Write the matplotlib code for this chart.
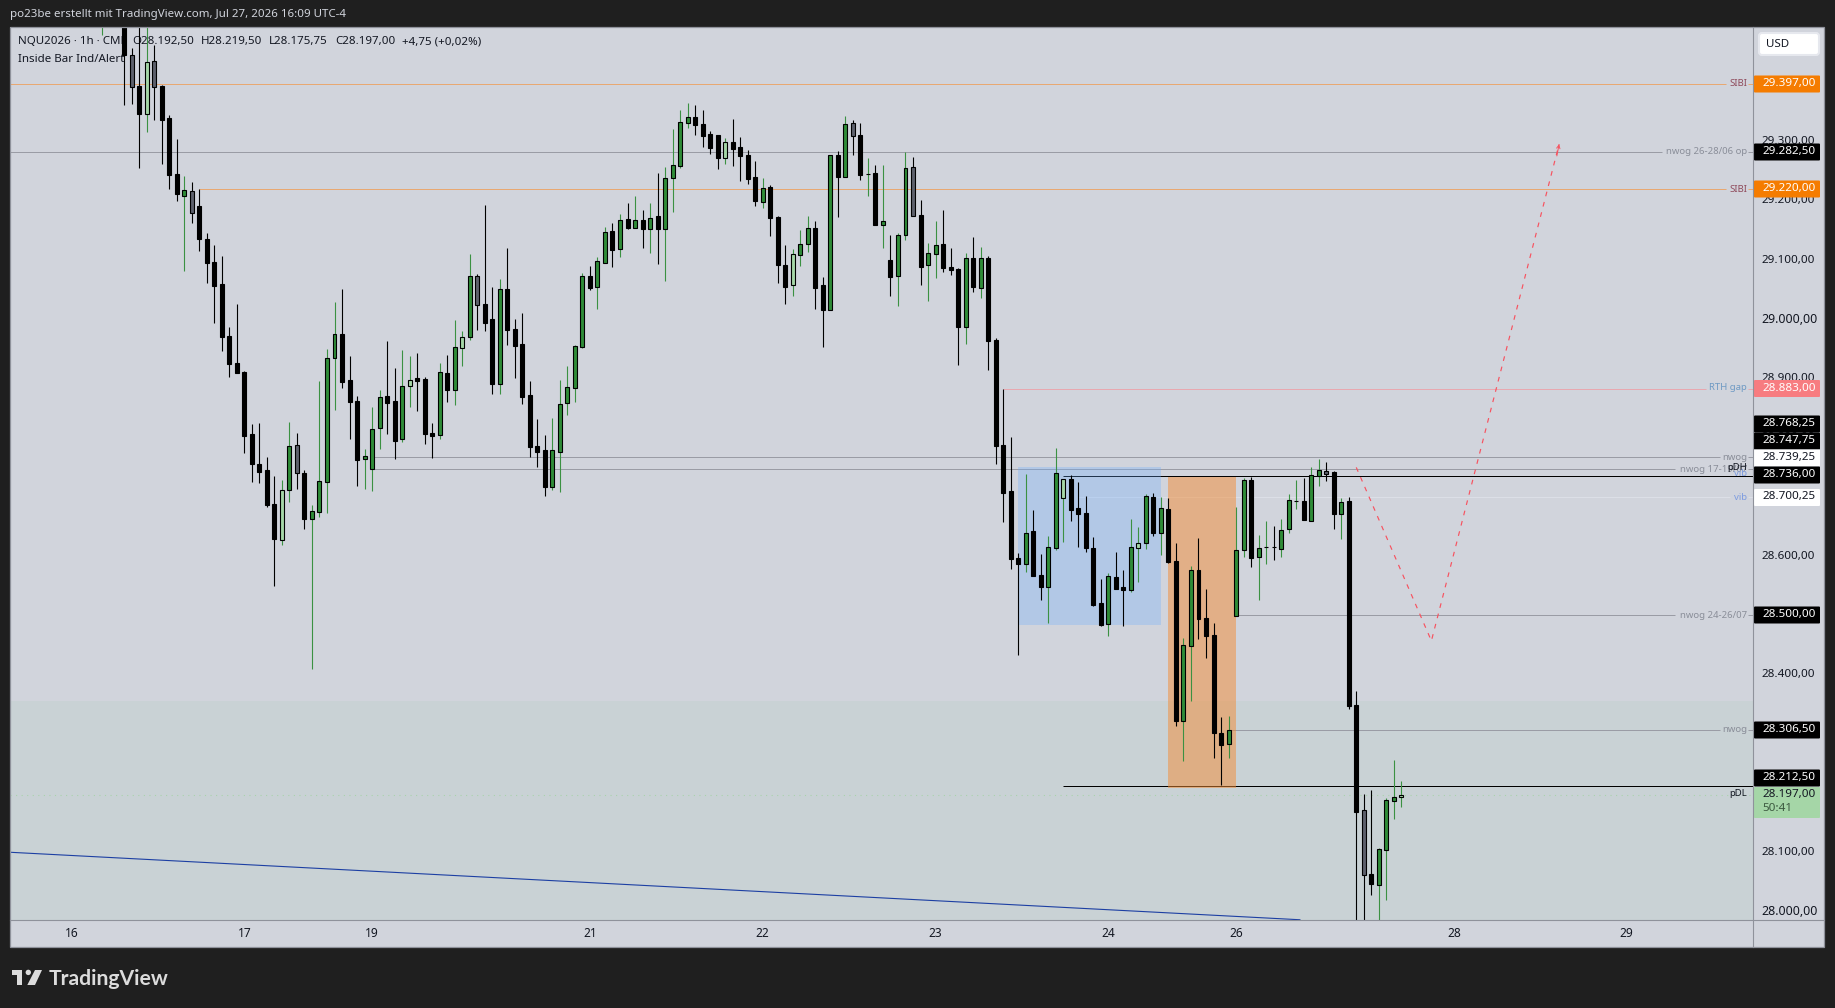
import matplotlib
matplotlib.use('Agg')
import matplotlib.pyplot as plt
from matplotlib.patches import Rectangle, FancyBboxPatch, Polygon, Circle
from matplotlib.transforms import Affine2D

plt.rcParams['font.family'] = ['Noto Sans', 'DejaVu Sans']

# Candles, one entry per hour bar
opens = [29510,29560,29560,29530,29446,29394,29346,29436,29394,29340,
         29246,29209,29216,29191,29136,29097,29059,28972,28926,28911,
         28806,28756,28746,28688,28628,28711,28788,28740,28663,28675,
         28726,28934,28975,28898,28862,28765,28747,28816,28870,28862,
         28798,28887,28901,28899,28808,28805,28909,28880,28952,28971,
         29073,29026,29000,28891,29051,28984,28958,28872,28786,28779,
         28717,28776,28859,28884,28953,29073,29055,29096,29149,29118,
         29169,29155,29167,29153,29174,29153,29238,29259,29331,29341,
         29330,29313,29311,29273,29300,29291,29278,29240,29198,29224,
         29173,29092,29058,29109,29127,29154,29058,29016,29278,29240,
         29332,29311,29245,29247,29159,29100,29073,29142,29257,29176,
         29092,29110,29127,29088,29085,28987,29104,29053,29104,28965,
         28788,28710,28597,28587,28642,28568,28548,28614,28698,28730,
         28681,28673,28614,28521,28485,28565,28548,28543,28614,28622,
         28700,28639,28680,28592,28322,28448,28577,28496,28467,28301,
         28283,28499,28610,28729,28599,28615,28615,28612,28646,28694,
         28693,28659,28735,28744,28742,28671,28693,28349,28171,28063,
         28045,28104,28186,28192.5]
highs = [29580,29580,29590,29560,29458,29510,29510,29463,29396,29345,
         29305,29242,29232,29220,29146,29125,29107,28987,29026,28913,
         28823,28825,28768,28735,28729,28827,28808,28746,28686,28896,
         28950,29029,29051,28938,28870,28781,28852,28881,28963,28918,
         28948,28938,28943,28903,28825,28926,28940,28999,28980,29110,
         29077,29193,29055,29068,29121,29001,29011,28896,28832,28805,
         28833,28898,28921,28957,29078,29090,29105,29156,29163,29178,
         29196,29208,29185,29197,29247,29257,29322,29354,29365,29362,
         29354,29318,29311,29306,29338,29308,29286,29267,29239,29227,
         29175,29126,29119,29151,29175,29166,29072,29278,29284,29344,
         29337,29332,29272,29261,29261,29142,29146,29283,29274,29202,
         29129,29166,29185,29121,29087,29112,29139,29122,29107,28968,
         28883,28801,28605,28739,28678,28604,28634,28783,28731,28737,
         28725,28702,28632,28561,28572,28607,28577,28663,28649,28705,
         28707,28700,28698,28622,28462,28583,28631,28545,28487,28328,
         28330,28683,28732,28734,28636,28659,28651,28663,28705,28729,
         28732,28751,28764,28759,28744,28698,28700,28372,28198,28205,
         28107,28192,28256,28219.5]
lows = [29481,29510,29505,29362,29364,29256,29317,29337,29263,29220,
        29200,29081,29163,29115,29061,28994,28947,28903,28909,28774,
        28725,28724,28683,28550,28619,28691,28713,28646,28410,28666,
        28673,28847,28884,28798,28719,28713,28710,28781,28806,28764,
        28793,28852,28845,28789,28766,28798,28860,28855,28921,28965,
        28982,28980,28874,28874,28957,28901,28857,28767,28751,28702,
        28712,28708,28838,28860,28952,29050,29018,29096,29088,29105,
        29153,29155,29121,29112,29094,29065,29181,29256,29323,29311,
        29291,29279,29254,29262,29259,29234,29229,29191,29188,29141,
        29061,29026,29039,29090,29114,29018,28953,29016,29173,29240,
        29278,29235,29208,29159,29120,29039,29023,29134,29175,29058,
        29031,29070,29080,29075,28923,28958,29046,29036,28914,28756,
        28658,28578,28433,28573,28566,28526,28487,28610,28624,28659,
        28615,28607,28516,28482,28465,28545,28482,28539,28556,28612,
        28634,28602,28588,28313,28254,28355,28460,28428,28259,28213,
        28259,28499,28599,28582,28526,28587,28594,28599,28639,28680,
        28661,28659,28719,28727,28646,28629,28342,27980,27980,28028,
        27980,28019,28156,28175.75]
closes = [29560,29530,29520,29447,29392,29347,29434,29393,29337,29244,
          29211,29218,29179,29136,29095,29057,28970,28925,28909,28803,
          28756,28742,28686,28629,28711,28786,28741,28663,28676,28727,
          28935,28975,28894,28860,28762,28769,28815,28869,28859,28795,
          28887,28898,28896,28806,28803,28911,28881,28953,28970,29073,
          29024,28994,28891,29051,28982,28955,28869,28784,28776,28717,
          28779,28857,28886,28955,29073,29053,29099,29147,29117,29167,
          29154,29167,29153,29172,29153,29238,29260,29333,29341,29328,
          29310,29289,29273,29299,29288,29276,29237,29200,29222,29171,
          29092,29055,29110,29127,29154,29053,29016,29278,29240,29330,
          29310,29244,29245,29159,29166,29072,29142,29256,29175,29088,
          29112,29126,29087,29083,28987,29104,29055,29104,28963,28786,
          28707,28595,28587,28640,28566,28548,28615,28740,28731,28678,
          28671,28614,28518,28484,28566,28545,28543,28615,28622,28702,
          28639,28681,28590,28322,28450,28577,28494,28465,28301,28281,
          28306,28610,28729,28597,28614,28615,28615,28644,28695,28694,
          28661,28737,28746,28739,28671,28692,28347,28168,28061,28046,
          28105,28188,28193,28197]
# u up, d down, g inside bar down, l inside bar up
kinds = list("udddgdlgdd" "dugddddddd" "ddddlugduu" "uuddduuudd" "uldddudulu"
             "gddudddddd" "uuuuuduudu" "dududuuuud" "dddlddddud" "ddluuddudu"
             "gdududuugd" "uudddududd" "dddudduuld" "ddddudd" "ulu" "duddu" "udddd"
             "uuuduuduuu" "duugduddgd" "uuul")

price_ticks = [28000, 28100, 28200, 28300, 28400, 28500, 28600, 28700,
               28800, 28900, 29000, 29100, 29200, 29300, 29400]
date_ticks = ['16', '17', '19', '21', '22', '23', '24', '26', '28', '29']
date_tick_bars = [-4, 19, 36, 65, 88, 111, 134, 151, 180, 203]

# Drawn levels: price, first bar, last bar
sibi_high = [29397, -13, 216.2]
sibi_low = [29220, 13, 216.2]
nwog_june = [29282.5, -13, 207.7]
rth_gap = [28883, 120, 213.5]
nwog_a = [28768.25, 36, 215.4]
nwog_b = [28747.75, 36, 209.4]
vib = [28700.25, 130, 216.8]
nwog_jul = [28500, 151, 209.4]
nwog_c = [28306.5, 150, 215.4]
pdh = [28736, 128, 220]
pdl = [28212.5, 128, 220]

# Trend line and the projected path
trend_bars = [-12.2, 159.5]
trend_prices = [28100, 27986]
path_bars = [167, 177, 194]
path_prices = [28750, 28457, 29296]
blue_box = [122, 141, 28484, 28751]
orange_box = [142, 151, 28208, 28734]
discount_zone = [27900, 28356]

# Pixel layout of the screenshot
W, H = 1835, 1008
LEFT, RIGHT, TOP, BOTTOM = 10, 1753, 27.5, 920
PER_BAR = 7.513
FIRST_X = 101.6


def px_to_bar(x):
    return (x - FIRST_X) / PER_BAR


def px_to_price(y):
    return 29397 - (y - 84.3) * 1.6889


BG = '#1f1f1f'
PANE = '#d1d4dc'
GREEN = '#2f8c38'
WICK_GREEN = '#3b9142'
GREY_LINE = '#9a9ca5'
ORANGE_LINE = '#e8a872'

fig = plt.figure(figsize=(W / 100, H / 100), dpi=100, facecolor=BG)

# Light panel behind the price and time scales
back = fig.add_axes([0, 0, 1, 1], facecolor='none')
back.set_xlim(0, W)
back.set_ylim(H, 0)
back.axis('off')
back.add_patch(Rectangle((9.5, 27), 1814.5, 920, fc=PANE, ec='none'))

ax = fig.add_axes([LEFT / W, 1 - BOTTOM / H, (RIGHT - LEFT) / W, (BOTTOM - TOP) / H])
ax.set_facecolor(PANE)
ax.set_xlim(px_to_bar(LEFT), px_to_bar(RIGHT))
ax.set_ylim(px_to_price(BOTTOM), px_to_price(TOP))
for s in ax.spines.values():
    s.set_visible(False)

ax.axhspan(discount_zone[0], discount_zone[1], color='#c9d2d5', lw=0, zorder=0.5)

# Horizontal levels
for level, col in [(sibi_high, ORANGE_LINE), (sibi_low, ORANGE_LINE),
                   (nwog_june, GREY_LINE), (rth_gap, '#e8a8b0'),
                   (nwog_a, GREY_LINE), (nwog_b, GREY_LINE), (vib, '#dcdfe7'),
                   (nwog_jul, GREY_LINE), (nwog_c, GREY_LINE),
                   (pdh, 'black'), (pdl, 'black')]:
    ax.hlines(level[0], level[1], level[2], color=col, lw=0.72, zorder=1)
    # little stub between the label and the price scale
    if col != 'black':
        ax.hlines(level[0], px_to_bar(1748), px_to_bar(RIGHT), color=col, lw=0.72, zorder=1)
ax.axhline(closes[-1], color='#a9d3ac', lw=0.8, ls=(0, (1, 4)), zorder=1)
ax.plot(trend_bars, trend_prices, color='#1c3fa3', lw=0.8, zorder=1)

# Zones, they sit over the levels and under the candles
ax.add_patch(Rectangle((blue_box[0], blue_box[2]), blue_box[1] - blue_box[0],
                       blue_box[3] - blue_box[2], color='#6dafff', alpha=0.3, lw=0, zorder=1.5))
ax.add_patch(Rectangle((orange_box[0], orange_box[2]), orange_box[1] - orange_box[0],
                       orange_box[3] - orange_box[2], color='#f38c34', alpha=0.5, lw=0, zorder=1.5))

# Legend in the top left corner, under the candles
legend_y = px_to_price(41.5)
legend_parts = [(18, 'NQU2026 · 1h · CME'), (132.5, 'O28.192,50'), (200.5, 'H28.219,50'),
                (269, 'L28.175,75'), (335, 'C28.197,00'), (402, '+4,75 (+0,02%)')]
for x, txt in legend_parts:
    ax.text(px_to_bar(x), legend_y, txt, fontsize=8.3, color='#131722', va='center', zorder=1.7)
ax.text(px_to_bar(18), px_to_price(59), 'Inside Bar Ind/Alert', fontsize=8.3,
        color='#131722', va='center', zorder=1.7)

# Candles
bars = list(range(len(opens)))
fills = {'u': GREEN, 'd': 'black', 'g': '#5d606b', 'l': '#a5d6a7'}
wicks = {'u': WICK_GREEN, 'd': 'black', 'g': 'black', 'l': WICK_GREEN}
ax.vlines(bars, lows, highs, colors=[wicks[k] for k in kinds], lw=0.8, zorder=2)
body_low = [min(o, c) for o, c in zip(opens, closes)]
body_h = [abs(o - c) for o, c in zip(opens, closes)]
ax.bar(bars, body_h, bottom=body_low, width=0.53, color=[fills[k] for k in kinds],
       edgecolor='black', linewidth=0.8, zorder=3)

# Projected path with its small arrow head
ax.plot(path_bars, path_prices, color='#f7525f', lw=0.85, ls=(0, (4, 5)), zorder=4)
ax.annotate('', xy=(path_bars[-1], path_prices[-1]),
            xytext=(path_bars[-1] - 0.3, path_prices[-1] - 20),
            arrowprops=dict(arrowstyle='->', color='#f7525f', lw=0.7, mutation_scale=6,
                            shrinkA=0, shrinkB=0), zorder=4)

# Axes ticks
ax.set_xticks(date_tick_bars, date_ticks)
ax.set_yticks(price_ticks, [f'{p:,.2f}'.replace(',', ' ').replace('.', ',').replace(' ', '.')
                            for p in price_ticks])
ax.yaxis.tick_right()
ax.tick_params(axis='x', length=0, pad=5, labelsize=8.6, labelcolor='#131722')
ax.tick_params(axis='y', length=0, pad=6.3, labelsize=8.4, labelcolor='#131722')
for lab in ax.get_yticklabels():
    lab.set_transform(lab.get_transform() + Affine2D().translate(0, 1.5))
    if lab.get_text() in ('29.000,00', '28.000,00'):
        lab.set_fontsize(8.9)
        lab.set_fontweight('medium')

# Overlay in screen pixels for frame, price labels and footer
ov = fig.add_axes([0, 0, 1, 1], facecolor='none')
ov.set_xlim(0, W)
ov.set_ylim(H, 0)
ov.axis('off')

FRAME = '#8f929b'
ov.add_patch(Rectangle((9.5, 27), 1814.5, 920, fc='none', ec=FRAME, lw=0.9))
ov.plot([RIGHT, RIGHT], [27, 947], color=FRAME, lw=0.8)
ov.plot([9.5, 1824], [BOTTOM, BOTTOM], color=FRAME, lw=0.8)
ov.text(10, 15, 'po23be erstellt mit TradingView.com, Jul 27, 2026 16:09 UTC-4',
        color='#d1d4dc', fontsize=8.3, va='center')

# USD button
ov.add_patch(FancyBboxPatch((1759, 33), 60, 22, boxstyle='round,pad=0,rounding_size=3',
                            fc='white', ec='#e6e8ee', lw=1.5))
ov.text(1766, 44.5, 'USD', color='#131722', fontsize=8.3, va='center')

# Text next to the levels: label, colour, y position
level_texts = [('SIBI', '#8f4a5c', 84), ('nwog 26-28/06 op', '#8a8e99', 152),
               ('SIBI', '#8f4a5c', 189), ('RTH gap', '#6f9ac4', 388),
               ('nwog', '#8a8e99', 457), ('nwog 17-19/07', '#8a8e99', 469),
               ('vib', '#7d9be0', 473), ('pDH', '#131722', 467), ('vib', '#7d9be0', 497),
               ('nwog 24-26/07', '#8a8e99', 615.5), ('nwog', '#8a8e99', 730),
               ('pDL', '#131722', 794)]
for txt, col, y in level_texts:
    ov.text(1747, y, txt, color=col, fontsize=6.9, ha='right', va='center')

# Boxes on the price scale: label, fill, text colour, y position
price_boxes = [('29.397,00', '#f57c00', 'white', 84), ('29.282,50', 'black', 'white', 152),
               ('29.220,00', '#f57c00', 'white', 189), ('28.883,00', '#f77c80', 'white', 388.5),
               ('28.768,25', 'black', 'white', 424), ('28.747,75', 'black', 'white', 441),
               ('28.739,25', 'white', '#131722', 458), ('28.736,00', 'black', 'white', 475),
               ('28.700,25', 'white', '#131722', 497.5), ('28.500,00', 'black', 'white', 615),
               ('28.306,50', 'black', 'white', 730), ('28.212,50', 'black', 'white', 778)]
for txt, fc, tc, y in price_boxes:
    ov.add_patch(FancyBboxPatch((1754, y - 8.5), 66, 17, boxstyle='round,pad=0,rounding_size=1',
                                fc=fc, ec='none'))
    ov.text(1762, y - 0.5, txt, color=tc, fontsize=8.4, va='center',
            fontweight='medium' if tc == 'white' else 'normal')

# Current price with the countdown
ov.add_patch(FancyBboxPatch((1754, 787), 66, 31, boxstyle='round,pad=0,rounding_size=1',
                            fc='#a5d6a7', ec='none'))
ov.text(1762, 794.5, '28.197,00', color='#131722', fontsize=8.4, va='center')
ov.text(1762, 808.5, '50:41', color='#3d5a40', fontsize=8.4, va='center')

# TradingView logo
LOGO = '#dcdcdc'
ov.add_patch(Polygon([(12, 970), (22, 970), (22, 985), (17, 985), (17, 975), (12, 975)],
                     fc=LOGO, ec='none'))
ov.add_patch(Circle((28.3, 972.4), 2.7, fc=LOGO, ec='none'))
ov.add_patch(Polygon([(35, 970), (42, 970), (35, 985), (27.3, 985)], fc=LOGO, ec='none'))
ov.text(49, 985, 'TradingView', color=LOGO, fontsize=15.2, family='Lato',
        fontweight='bold', va='baseline')

fig.savefig('out.png', dpi=100, facecolor=BG)
